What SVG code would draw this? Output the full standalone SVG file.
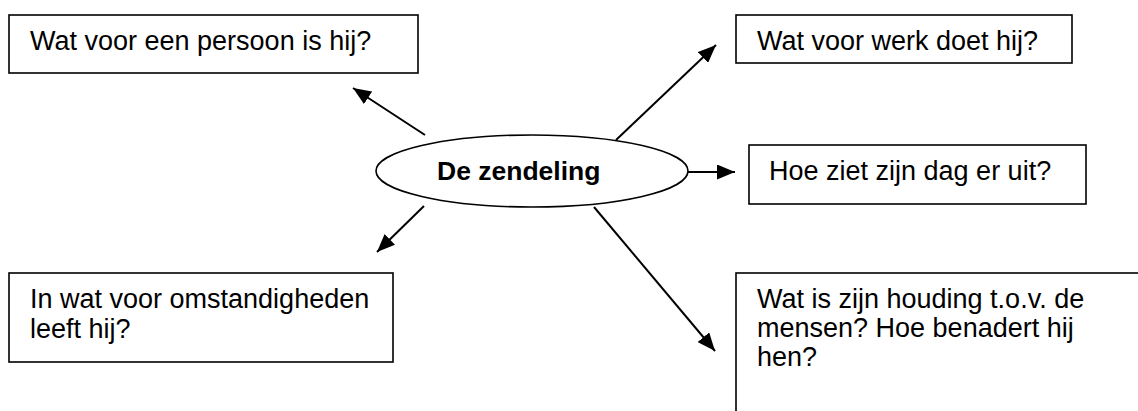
<svg xmlns="http://www.w3.org/2000/svg" width="1138" height="411" viewBox="0 0 1138 411">
<style>
.box{fill:#fff;stroke:#000;stroke-width:1.6}
.t{font-family:"Liberation Sans",Arial,sans-serif;font-size:27px;fill:#000}
.b{font-weight:bold;font-size:26.5px}
.c{stroke:#000;stroke-width:2;fill:none;marker-end:url(#ah)}
</style>
<defs>
<marker id="ah" markerUnits="userSpaceOnUse" markerWidth="19" markerHeight="15" refX="18" refY="7.5" orient="auto">
<path d="M0,0 L18,7.5 L0,15 Z" fill="#000"/>
</marker>
</defs>
<rect width="1138" height="411" fill="#fff"/>
<g id="connectors">
<line class="c" x1="425" y1="135" x2="353" y2="88"/>
<line class="c" x1="616" y1="140" x2="716" y2="45"/>
<line class="c" x1="688" y1="172" x2="735" y2="172"/>
<line class="c" x1="424" y1="206" x2="377" y2="252"/>
<line class="c" x1="594" y1="207" x2="715" y2="351"/>
</g>
<g id="center">
<ellipse class="box" cx="532" cy="171" rx="156" ry="36"/>
<text class="t b" x="437" y="180">De zendeling</text>
</g>
<g id="persoon">
<rect class="box" x="9" y="15" width="409" height="58"/>
<text class="t" x="30" y="50">Wat voor een persoon is hij?</text>
</g>
<g id="werk">
<rect class="box" x="736" y="15" width="336" height="48"/>
<text class="t" x="757" y="50">Wat voor werk doet hij?</text>
</g>
<g id="dag">
<rect class="box" x="749" y="145" width="337" height="59"/>
<text class="t" x="769" y="180">Hoe ziet zijn dag er uit?</text>
</g>
<g id="omstandigheden">
<rect class="box" x="9" y="273" width="384" height="89"/>
<text class="t" x="30" y="308">In wat voor omstandigheden</text>
<text class="t" x="30" y="338">leeft hij?</text>
</g>
<g id="houding">
<rect class="box" x="736" y="273" width="450" height="200"/>
<text class="t" x="757" y="308">Wat is zijn houding t.o.v. de</text>
<text class="t" x="757" y="337">mensen? Hoe benadert hij</text>
<text class="t" x="757" y="366">hen?</text>
</g>
</svg>
